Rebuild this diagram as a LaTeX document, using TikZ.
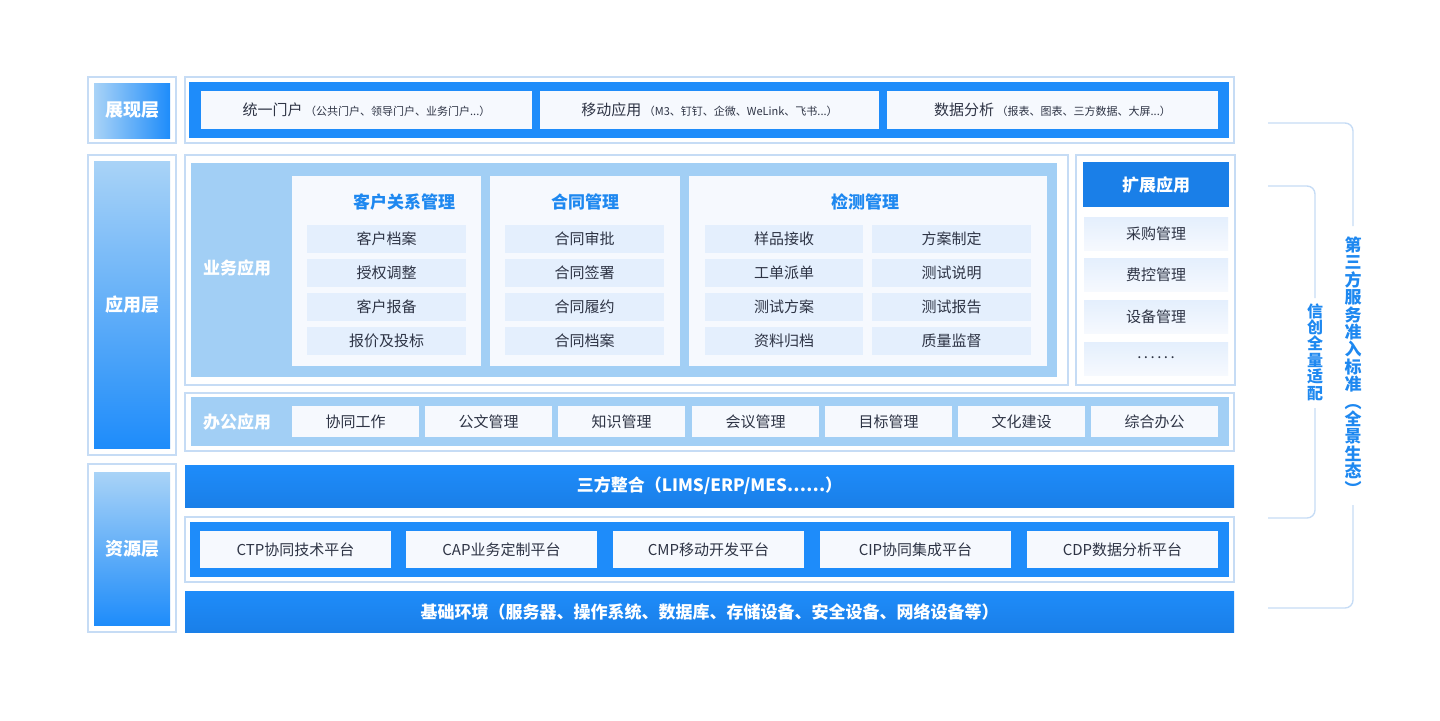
\documentclass[tikz,border=0pt]{standalone}
\usepackage{fontspec}
\setmainfont{Noto Sans CJK SC}
\definecolor{bl}{HTML}{1E8CFA}
\definecolor{bld}{HTML}{1A7FE8}
\definecolor{lb}{HTML}{A2CFF5}
\definecolor{lbt}{HTML}{A9D3F7}
\definecolor{edge}{HTML}{C6DCF5}
\definecolor{itm}{HTML}{F6F9FE}
\definecolor{cit}{HTML}{E4EFFD}
\definecolor{txt}{HTML}{2E3445}
\definecolor{tb}{HTML}{1E88F0}
\newcommand{\sixdots}{\raisebox{0.3ex}{.\,.\,.\,.\,.\,.}}
\tikzset{
 outer/.style={draw=edge,line width=0.6pt,fill=white},
 itembox/.style={fill=itm},
 citem/.style={fill=cit},
 it/.style={text=txt,font=\fontsize{7.5}{9}\selectfont},
 ttl/.style={text=tb,font=\bfseries\fontsize{8.5}{10}\selectfont},
 wt/.style={text=white,font=\bfseries\fontsize{8.5}{10}\selectfont},
 lay/.style={top color=lbt,bottom color=bl},
 brk/.style={draw=edge,line width=0.7pt,rounded corners=4pt},
 vt/.style={text=tb,font=\bfseries\fontsize{8.5}{9.6}\selectfont,align=center,inner sep=0pt},
}
\begin{document}
\begin{tikzpicture}[x=0.5pt,y=-0.5pt]
\path[use as bounding box] (0,0) rectangle (1440,720);
% layer labels
\draw[outer] (88,77) rectangle (176,143);
\shade[left color=lbt,right color=bl] (94,83) rectangle node[wt,font=\bfseries\fontsize{9}{10}\selectfont] (l1){展现层} (170,138);
\draw[outer] (88,155) rectangle (176,455);
\shade[lay] (94,161) rectangle node[wt,font=\bfseries\fontsize{9}{10}\selectfont] (l2){应用层} (170,448);
\draw[outer] (88,464) rectangle (176,632);
\shade[lay] (94,472) rectangle node[wt,font=\bfseries\fontsize{9}{10}\selectfont] (l3){资源层} (170,625);
% presentation
\draw[outer] (185,77) rectangle (1234,143);
\fill[bl] (189,82) rectangle (1229,138);
\fill[itembox] (201,91) rectangle node[it] (p1){统一门户\,{\fontsize{5.5}{7}\selectfont（公共门户、领导门户、业务门户...）}} (532,129);
\fill[itembox] (540,91) rectangle node[it] (p2){移动应用\,{\fontsize{5.5}{7}\selectfont（M3、钉钉、企微、WeLink、飞书...）}} (879,129);
\fill[itembox] (887,91) rectangle node[it] (p3){数据分析\,{\fontsize{5.5}{7}\selectfont（报表、图表、三方数据、大屏...）}} (1218,129);
% business apps
\draw[outer] (185,155) rectangle (1068,385);
\fill[lb] (191,163) rectangle (1057,377);
\node[wt] (biz) at (237,268) {业务应用};
\fill[itembox] (292,176) rectangle (481,366);
\fill[itembox] (490,176) rectangle (680,366);
\fill[itembox] (689,176) rectangle (1047,366);
\node[ttl] (t1) at (404,202) {客户关系管理};
\node[ttl] (t2) at (585,202) {合同管理};
\node[ttl] (t3) at (865,202) {检测管理};
\foreach \y/\a/\b/\c/\d/\e in {239/客户档案/合同审批/样品接收/方案制定/1,273/授权调整/合同签署/工单派单/测试说明/2,307/客户报备/合同履约/测试方案/测试报告/3,341/报价及投标/合同档案/资料归档/质量监督/4}{
 \fill[citem] (307,\y-14) rectangle node[it] (a\e){\a} (466,\y+14);
 \fill[citem] (505,\y-14) rectangle node[it] (b\e){\b} (664,\y+14);
 \fill[citem] (705,\y-14) rectangle node[it] (c\e){\c} (863,\y+14);
 \fill[citem] (872,\y-14) rectangle node[it] (d\e){\d} (1031,\y+14);
}
% extension
\draw[outer] (1076,155) rectangle (1235,385);
\fill[bld] (1083,162) rectangle node[wt] (ext){扩展应用} (1229,207);
\foreach \y/\t/\n in {217/采购管理/1,258/费控管理/2,300/设备管理/3,342/\sixdots/4}{
 \shade[top color=cit,bottom color=itm] (1084,\y) rectangle node[it] (e\n){\t} (1228,\y+33);
}
% office
\draw[outer] (185,393) rectangle (1234,451);
\fill[lb] (191,397) rectangle (1229,446);
\node[wt] (off) at (237,422) {办公应用};
\foreach \x/\t/\n in {292/协同工作/1,425/公文管理/2,558/知识管理/3,692/会议管理/4,825/目标管理/5,958/文化建设/6,1091/综合办公/7}{
 \fill[itembox] (\x,406) rectangle node[it] (o\n){\t} (\x+127,437);
}
% third-party
\shade[top color=bl,bottom color=bld] (185,465) rectangle node[wt] (tp){三方整合（LIMS/ERP/MES……）} (1234,507);
% platforms
\draw[outer] (185,517) rectangle (1234,582);
\fill[bl] (190,522) rectangle (1229,577);
\foreach \x/\t/\n in {200/CTP协同技术平台/1,406/CAP业务定制平台/2,613/CMP移动开发平台/3,820/CIP协同集成平台/4,1027/CDP数据分析平台/5}{
 \fill[itembox] (\x,531) rectangle node[it] (q\n){\t} (\x+191,568);
}
\shade[top color=bl,bottom color=bld] (185,591) rectangle node[wt] (base){基础环境（服务器、操作系统、数据库、存储设备、安全设备、网络设备等）} (1234,632);
% brackets
\coordinate (oa) at (1268,123); \coordinate (ob) at (1268,608);
\node[vt,font=\bfseries\fontsize{8.5}{8.7}\selectfont] (std) at (1353,366) {第\\三\\方\\服\\务\\准\\入\\标\\准\\︵\\全\\景\\生\\态\\︶};
\draw[brk] (oa) -- (1353,123) -- (1353,226);
\draw[brk] (1353,505) -- (1353,608) -- (ob);
\coordinate (ia) at (1268,186); \coordinate (ib) at (1268,518);
\node[vt,font=\bfseries\fontsize{8}{8.2}\selectfont] (xc) at (1315,352) {信\\创\\全\\量\\适\\配};
\draw[brk] (ia) -- (1315,186) -- (1315,298);
\draw[brk] (1315,408) -- (1315,518) -- (ib);
\end{tikzpicture}
\end{document}
